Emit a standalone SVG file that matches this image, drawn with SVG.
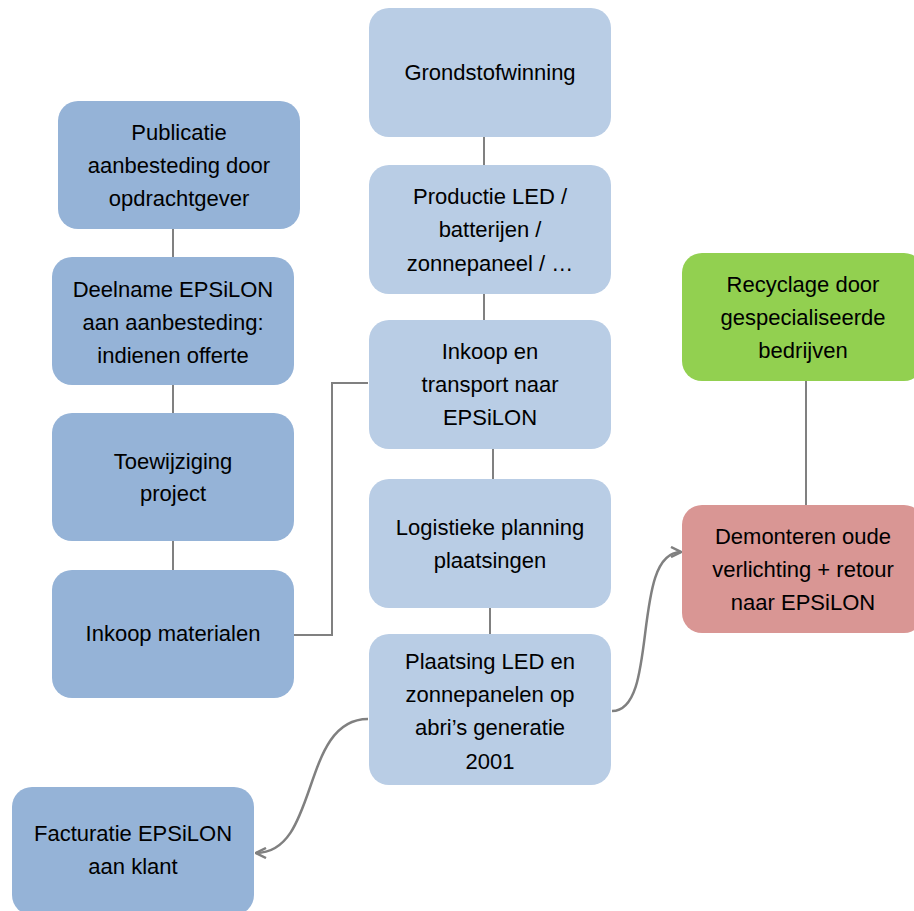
<svg xmlns="http://www.w3.org/2000/svg" width="914" height="911" viewBox="0 0 914 911">
<style>
.l{fill:#95b3d7}
.m{fill:#b9cde5}
.g{fill:#92d050}
.r{fill:#d99694}
text{font-family:"Liberation Sans",Arial,sans-serif;font-size:22px;fill:#000;text-anchor:middle}
.c{fill:none;stroke:#808080;stroke-width:2}
.cv{fill:none;stroke:#808080;stroke-width:2.5}
</style>
<defs>
<marker id="ah" viewBox="0 0 12 12" refX="11" refY="6" markerWidth="12" markerHeight="12" markerUnits="userSpaceOnUse" orient="auto">
<path d="M1,1 L11,6 L1,11" fill="none" stroke="#808080" stroke-width="2.5"/>
</marker>
</defs>
<rect width="914" height="911" fill="#fff"/>
<g id="connectors">
<line class="c" x1="173" y1="229" x2="173" y2="257"/>
<line class="c" x1="173" y1="385" x2="173" y2="413"/>
<line class="c" x1="173" y1="541" x2="173" y2="570"/>
<line class="c" x1="484" y1="137" x2="484" y2="165"/>
<line class="c" x1="484" y1="294" x2="484" y2="320"/>
<line class="c" x1="493" y1="449" x2="493" y2="479"/>
<line class="c" x1="490" y1="608" x2="490" y2="634"/>
<polyline class="c" points="294,635 332,635 332,383 368,383"/>
<line class="c" x1="806" y1="381" x2="806" y2="505"/>
<path class="cv" d="M612,711 C660,711 630,552 681,552" marker-end="url(#ah)"/>
<path class="cv" d="M368,719 C300,719 320,853 256,853" marker-end="url(#ah)"/>
</g>
<g id="publicatie"><rect class="l" x="58" y="101" width="242" height="128" rx="20"/>
<text x="179" y="140">Publicatie</text><text x="179" y="173">aanbesteding door</text><text x="179" y="206">opdrachtgever</text></g>
<g id="deelname"><rect class="l" x="52" y="257" width="242" height="128" rx="20"/>
<text x="173" y="297">Deelname EPSiLON</text><text x="173" y="330">aan aanbesteding:</text><text x="173" y="363">indienen offerte</text></g>
<g id="toewijziging"><rect class="l" x="52" y="413" width="242" height="128" rx="20"/>
<text x="173" y="469">Toewijziging</text><text x="173" y="501">project</text></g>
<g id="inkoop-materialen"><rect class="l" x="52" y="570" width="242" height="128" rx="20"/>
<text x="173" y="641">Inkoop materialen</text></g>
<g id="facturatie"><rect class="l" x="12" y="787" width="242" height="128" rx="20"/>
<text x="133" y="841">Facturatie EPSiLON</text><text x="133" y="874">aan klant</text></g>
<g id="grondstofwinning"><rect class="m" x="369" y="8" width="242" height="129" rx="20"/>
<text x="490" y="80">Grondstofwinning</text></g>
<g id="productie"><rect class="m" x="369" y="165" width="242" height="129" rx="20"/>
<text x="490" y="204">Productie LED /</text><text x="490" y="237">batterijen /</text><text x="490" y="271">zonnepaneel / …</text></g>
<g id="inkoop-transport"><rect class="m" x="369" y="320" width="242" height="129" rx="20"/>
<text x="490" y="359">Inkoop en</text><text x="490" y="392">transport naar</text><text x="490" y="425">EPSiLON</text></g>
<g id="logistieke"><rect class="m" x="369" y="479" width="242" height="129" rx="20"/>
<text x="490" y="535">Logistieke planning</text><text x="490" y="568">plaatsingen</text></g>
<g id="plaatsing"><rect class="m" x="369" y="634" width="242" height="151" rx="20"/>
<text x="490" y="669">Plaatsing LED en</text><text x="490" y="702">zonnepanelen op</text><text x="490" y="735">abri’s generatie</text><text x="490" y="769">2001</text></g>
<g id="recyclage"><rect class="g" x="682" y="253" width="242" height="128" rx="20"/>
<text x="803" y="292">Recyclage door</text><text x="803" y="325">gespecialiseerde</text><text x="803" y="358">bedrijven</text></g>
<g id="demonteren"><rect class="r" x="682" y="505" width="242" height="128" rx="20"/>
<text x="803" y="544">Demonteren oude</text><text x="803" y="577">verlichting + retour</text><text x="803" y="610">naar EPSiLON</text></g>
</svg>
